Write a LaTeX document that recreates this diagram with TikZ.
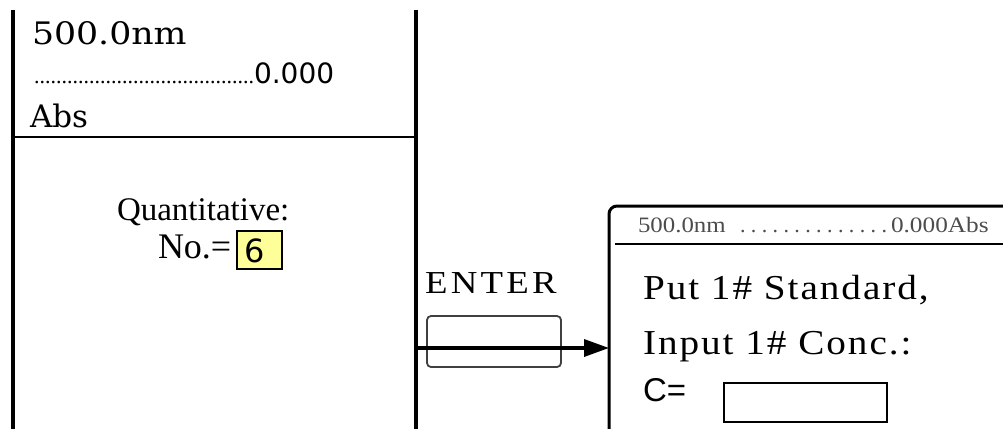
\documentclass[tikz,border=0pt]{standalone}
\usepackage{fontspec}
\setmainfont{Liberation Serif}
\newfontfamily\dserif{DejaVu Serif}
\newfontfamily\dsans{DejaVu Sans}
\newfontfamily\lsans{Liberation Sans}
\usetikzlibrary{arrows.meta}
\tikzset{
  txt/.style={inner sep=0pt, outer sep=0pt, anchor=base west},
  rail/.style={line width=4pt},
  keycap/.style={draw=black!75, line width=1.8pt, rounded corners=4pt},
  screen/.style={draw, line width=3pt, rounded corners=8pt},
}
\begin{document}
\begin{tikzpicture}[x=1pt,y=-1pt]
\useasboundingbox (0,0) rectangle (1003,428);
\begin{scope}
\clip (0,0) rectangle (1003,428);

% ---- left display panel ----
\coordinate (lt) at (13,10);
\coordinate (lb) at (13,432);
\coordinate (rt) at (416,10);
\coordinate (rb) at (416,432);
\draw[rail] (lt) -- (lb);
\draw[rail] (rt) -- (rb);
\draw[line width=1.3pt] (13,137) -- (416,137);

\node[txt] (wl) at (32,45) {\scalebox{1.12}[1]{\dserif\fontsize{31}{31}\selectfont 500.0nm}};
\node[txt] (dots) at (34,83) {\fontsize{22}{22}\selectfont ........................................};
\node[txt] (absv) at (dots.base east) {\dsans\fontsize{28}{28}\selectfont 0.000};
\node[txt] (absu) at (30,127) {\dserif\fontsize{31}{31}\selectfont Abs};

\node[txt] (quant) at (117,220) {\fontsize{33}{33}\selectfont Quantitative:};
\node[txt] (no) at (158,258) {\fontsize{36}{36}\selectfont No.=};
\node[draw, line width=1.2pt, fill={rgb,255:red,255;green,255;blue,153},
      minimum width=45pt, minimum height=38pt, inner sep=0pt] (val) at (259.5,250) {};
\node[txt] (six) at (244,262) {\dsans\fontsize{32}{32}\selectfont 6};

% ---- ENTER key and arrow ----
\node[txt] (enter) at (425,293) {\scalebox{1.15}[1]{\addfontfeature{LetterSpace=9}\fontsize{32}{32}\selectfont ENTER}};
\draw[keycap] (427,316) rectangle (561,367);
\node[inner sep=0pt, minimum size=0pt] (src) at (416,348) {};

% ---- right display panel ----
\draw[screen] (609,206) rectangle (1030,440);
\coordinate (scr) at (609,348);
\draw[line width=1.3pt] (615,244) -- (1003,244);
\begin{scope}[black!70]
\node[txt] (hwl) at (638,232) {\scalebox{1.13}[1]{\fontsize{22}{22}\selectfont 500.0nm}};
\node[txt] (hdots) at (740,232) {\addfontfeature{LetterSpace=24.5}\fontsize{22}{22}\selectfont ..............};
\node[txt] (habs) at (891,232) {\scalebox{1.15}[1]{\fontsize{22}{22}\selectfont 0.000Abs}};
\end{scope}

\node[txt] (put) at (643,299) {\scalebox{1.12}[1]{\addfontfeature{LetterSpace=5}\fontsize{35}{35}\selectfont Put 1\# Standard,}};
\node[txt] (inp) at (643,354) {\scalebox{1.12}[1]{\addfontfeature{LetterSpace=5}\fontsize{35}{35}\selectfont Input 1\# Conc.:}};
\node[txt] (ceq) at (643,401) {\lsans\fontsize{33}{33}\selectfont C=};
\draw[line width=1.5pt] (724,383) rectangle (887,422);

\draw[line width=3.5pt, -{Triangle[length=25pt,width=17pt]}] (src.center) -- (scr);
\end{scope}
\end{tikzpicture}
\end{document}
